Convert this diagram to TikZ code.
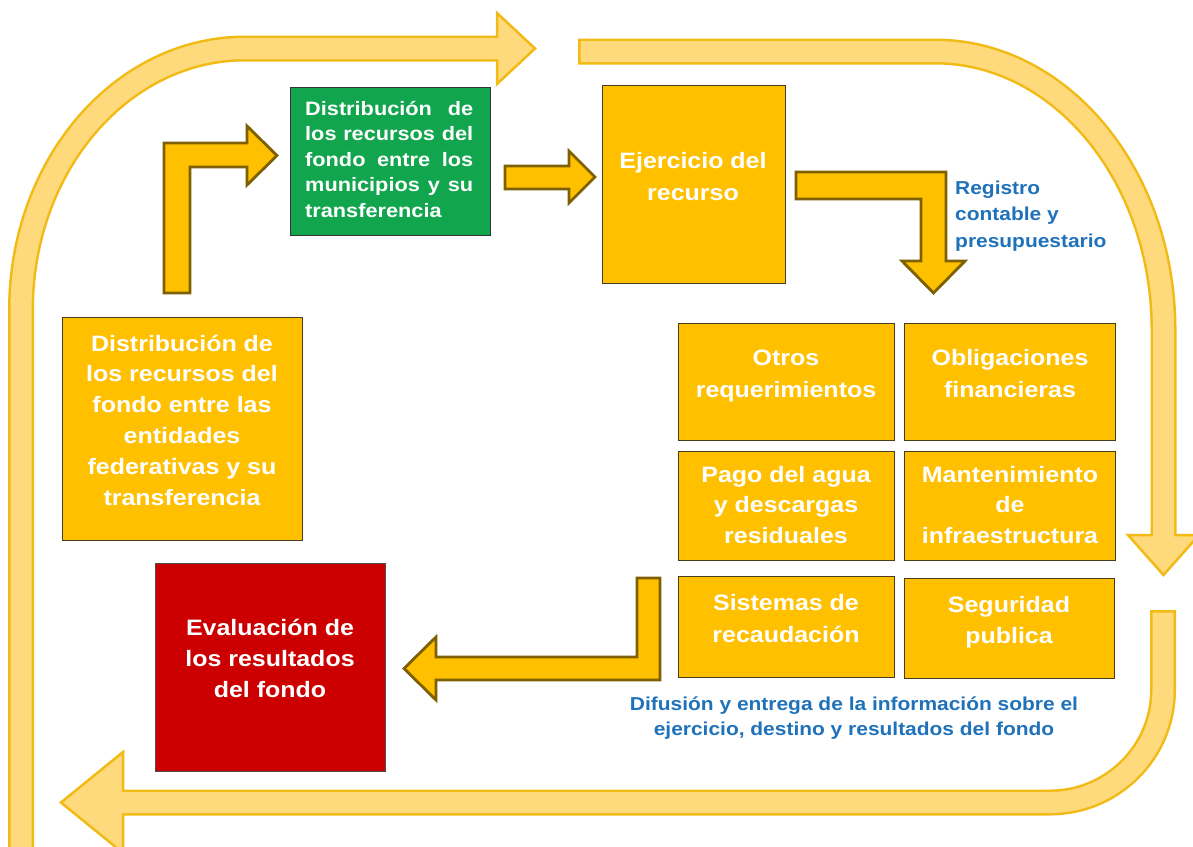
\documentclass[tikz,border=0pt]{standalone}
\usepackage{fontspec}
\setmainfont{Liberation Sans}[FakeStretch=1.12]
\usepackage{graphicx}
\definecolor{amber}{RGB}{255,192,0}
\definecolor{olive}{RGB}{127,96,0}
\definecolor{boxline}{RGB}{70,60,30}
\definecolor{grn}{RGB}{17,166,78}
\definecolor{rd}{RGB}{204,0,0}
\definecolor{blu}{RGB}{31,114,186}
\definecolor{loopdark}{RGB}{242,186,20}
\definecolor{looplight}{RGB}{255,218,125}
\newcommand{\btext}[3]{\parbox[t]{260pt}{\centering\fontsize{#1}{#2}\selectfont\bfseries #3}}
\newcommand{\jline}[1]{\leavevmode\hbox to 168pt{#1}}
\tikzset{
  ybox/.style={draw=boxline, line width=1.2pt, fill=amber, anchor=north west, inner sep=0pt},
  gbox/.style={ybox, fill=grn, draw=black!80},
  rbox/.style={ybox, fill=rd, draw=black!70},
  wtext/.style={anchor=base, inner sep=0pt, text=white},
  btxt/.style={inner sep=0pt, text=blu},
  solidarrow/.style={fill=amber, draw=olive, line width=2.8pt, line join=miter},
  loopborder/.style={draw=loopdark, line width=26pt, line cap=butt, line join=round},
  loopfill/.style={draw=looplight, line width=21pt, line cap=butt, line join=round},
  loophead/.style={fill=looplight, draw=loopdark, line width=2.5pt, line join=miter},
}
\begin{document}
\begin{tikzpicture}[x=1pt, y=-1pt]
\useasboundingbox (0,0) rectangle (1193,846);
\fill[white] (0,0) rectangle (1193,846);

% ---- outer loop arrows ----
\draw[loopborder] (21,870) -- (21,310) .. controls (21,165.6) and (121.3,48.5) .. (245,48.5) -- (500,48.5);
\draw[loopborder] (578,51.5) -- (935,51.5) .. controls (1061.2,51.5) and (1163.5,176.2) .. (1163.5,330) -- (1163.5,538);
\draw[loopborder] (1163,610) -- (1163,690) .. controls (1163,752.1) and (1112.1,802.5) .. (1050,802.5) -- (120,802.5);
\draw[loophead] (497,13) -- (535,48.5) -- (497,84) -- cycle;
\draw[loophead] (1128,535) -- (1199,535) -- (1163.5,575) -- cycle;
\draw[loophead] (123,752) -- (61,802.5) -- (123,853) -- cycle;
\draw[loopfill] (21,870) -- (21,310) .. controls (21,165.6) and (121.3,48.5) .. (245,48.5) -- (503,48.5);
\draw[loopfill] (580.5,51.5) -- (935,51.5) .. controls (1061.2,51.5) and (1163.5,176.2) .. (1163.5,330) -- (1163.5,541);
\draw[loopfill] (1163,612.5) -- (1163,690) .. controls (1163,752.1) and (1112.1,802.5) .. (1050,802.5) -- (117,802.5);

% ---- boxes ----
\node[ybox, minimum width=240pt, minimum height=223pt] (b1) at (62,317) {};
\node[gbox, minimum width=200pt, minimum height=148pt] (b2) at (290,87) {};
\node[ybox, minimum width=183pt, minimum height=198pt] (b3) at (602,85) {};
\node[ybox, minimum width=216pt, minimum height=117pt] (b4) at (678,323) {};
\node[ybox, minimum width=211pt, minimum height=117pt] (b5) at (904,323) {};
\node[ybox, minimum width=216pt, minimum height=109pt] (b6) at (678,451) {};
\node[ybox, minimum width=211pt, minimum height=109pt] (b7) at (904,451) {};
\node[ybox, minimum width=216pt, minimum height=101pt] (b8) at (678,576) {};
\node[ybox, minimum width=210pt, minimum height=100pt] (b9) at (904,578) {};
\node[rbox, minimum width=230pt, minimum height=208pt] (b10) at (155,563) {};

% ---- box texts ----
\node[wtext] (t1) at (182,351) {\btext{22.3}{30.8}{Distribución de\\los recursos del\\fondo entre las\\entidades\\federativas y su\\transferencia}};
\node[anchor=base west, inner sep=0pt, text=white] (t2) at (305,115) {\parbox[t]{168pt}{\fontsize{19.4}{25.5}\selectfont\bfseries
\jline{Distribución\hfill de}\\
\jline{los\hfill recursos\hfill del}\\
\jline{fondo\hfill entre\hfill los}\\
\jline{municipios\hfill y\hfill su}\\
transferencia}};
\node[wtext] (t3) at (693,168) {\btext{22.3}{32}{Ejercicio del\\recurso}};
\node[wtext] (t4) at (786,365) {\btext{22.3}{32}{Otros\\requerimientos}};
\node[wtext] (t5) at (1010,365) {\btext{22.3}{32}{Obligaciones\\financieras}};
\node[wtext] (t6) at (786,482) {\btext{22.3}{30.5}{Pago del agua\\y descargas\\residuales}};
\node[wtext] (t7) at (1010,482) {\btext{22.3}{30.5}{Mantenimiento\\de\\infraestructura}};
\node[wtext] (t8) at (786,610) {\btext{22.3}{32}{Sistemas de\\recaudación}};
\node[wtext] (t9) at (1009,612) {\btext{22.3}{31}{Seguridad\\publica}};
\node[wtext] (t10) at (270,635) {\btext{22.3}{31}{Evaluación de\\los resultados\\del fondo}};

% ---- blue labels ----
\node[btxt, anchor=base west] (l1) at (955,194) {\parbox[t]{170pt}{\raggedright\fontsize{18.7}{26.5}\selectfont\bfseries Registro\\contable y\\presupuestario}};
\node[btxt, anchor=base] (l2) at (854,710) {\parbox[t]{520pt}{\centering\fontsize{18.7}{25}\selectfont\bfseries Difusión y entrega de la información sobre el\\ejercicio, destino y resultados del fondo}};

% ---- solid block arrows ----
\draw[solidarrow] (164,293) -- (164,143) -- (247,143) -- (247,126) -- (277,155.5) -- (247,185) -- (247,167) -- (190,167) -- (190,293) -- cycle;
\draw[solidarrow] (505,166) -- (569,166) -- (569,151) -- (595,177) -- (569,203) -- (569,189) -- (505,189) -- cycle;
\draw[solidarrow] (796,172) -- (946,172) -- (946,261) -- (965,261) -- (933.5,293) -- (902,261) -- (921,261) -- (921,199) -- (796,199) -- cycle;
\draw[solidarrow] (660,578) -- (660,680) -- (436,680) -- (436,700) -- (404,668.5) -- (436,637) -- (436,657) -- (637,657) -- (637,578) -- cycle;
\end{tikzpicture}
\end{document}
